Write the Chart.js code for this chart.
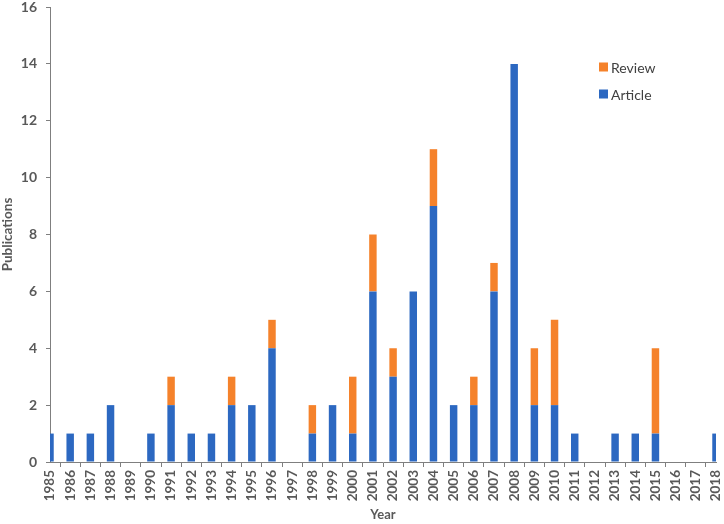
<!DOCTYPE html>
<html><head><meta charset="utf-8">
<script src="https://cdn.jsdelivr.net/npm/chart.js@4/dist/chart.umd.min.js"></script>
<style>html,body{margin:0;padding:0;background:#fff}#wrap{width:724px;height:524px}</style>
</head><body><div id="wrap"><canvas id="c"></canvas></div>
<script>
const years = ['1985','1986','1987','1988','1989','1990','1991','1992','1993','1994','1995','1996','1997','1998','1999','2000','2001','2002','2003','2004','2005','2006','2007','2008','2009','2010','2011','2012','2013','2014','2015','2016','2017','2018'];
const articles = [1,1,1,2,0,1,2,1,1,2,2,4,0,1,2,1,6,3,6,9,2,2,6,14,2,2,1,0,1,1,1,0,0,1];
const reviews  = [0,0,0,0,0,0,1,0,0,1,0,1,0,1,0,2,2,1,0,2,0,1,1,0,2,3,0,0,0,0,3,0,0,0];
const yTicks = [0,2,4,6,8,10,12,14,16];

const BLUE = '#2c68c1', ORANGE = '#f5822b', GRAY = '#595959';
const FONT = 'Lato, "Open Sans", sans-serif';

const legendPlugin = {
  id: 'insideLegend',
  afterDraw(chart) {
    const ctx = chart.ctx;
    const items = [chart.data.datasets[1], chart.data.datasets[0]];
    ctx.save();
    ctx.font = '14px ' + FONT;
    ctx.textBaseline = 'middle';
    items.forEach((ds, i) => {
      const y = 67 + i * 27;
      ctx.fillStyle = ds.backgroundColor;
      ctx.fillRect(599, y - 4.5, 9, 9);
      ctx.fillStyle = '#404040';
      ctx.fillText(ds.label, 611, y + 1);
    });
    ctx.restore();
  }
};

new Chart(document.getElementById('c'), {
  type: 'bar',
  data: {
    labels: years,
    datasets: [
      { label: 'Article', data: articles, backgroundColor: BLUE, barPercentage: 0.37, categoryPercentage: 1 },
      { label: 'Review', data: reviews, backgroundColor: ORANGE, barPercentage: 0.37, categoryPercentage: 1 }
    ]
  },
  options: {
    responsive: true, maintainAspectRatio: false, animation: false,
    layout: { padding: { top: 0, right: 0, left: 0, bottom: 0 } },
    plugins: { legend: { display: false }, tooltip: { enabled: false } },
    scales: {
      x: {
        stacked: true, offset: false,
        grid: { drawOnChartArea: false, drawTicks: true, tickLength: 5, color: '#7f7f7f' },
        border: { color: '#7f7f7f', width: 1 },
        ticks: { autoSkip: false, maxRotation: 90, minRotation: 90, color: GRAY, padding: 3, font: { family: FONT, size: 13.5, weight: 'bold', lineHeight: 1 } },
        title: { display: true, text: 'Year', color: GRAY, padding: { top: 2, bottom: 1 }, font: { family: FONT, size: 13, weight: 'bold' } },
        afterFit(s) { s.height = 62; s.paddingRight = 8; s.paddingLeft = 0; }
      },
      y: {
        stacked: true, min: 0, max: 16,
        afterBuildTicks(s) { s.ticks = yTicks.map(v => ({ value: v })); },
        grid: { drawOnChartArea: false, drawTicks: true, tickLength: 4, color: '#7f7f7f' },
        border: { color: '#7f7f7f', width: 1 },
        ticks: { color: GRAY, padding: 9, font: { family: FONT, size: 14, weight: 'bold', lineHeight: 1 } },
        title: { display: true, text: 'Publications', color: GRAY, padding: { top: 0, bottom: 2 }, font: { family: FONT, size: 13.5, weight: 'bold' } },
        afterFit(s) { s.width = 50; s.paddingTop = 7; s.paddingBottom = 0; }
      }
    }
  },
  plugins: [legendPlugin]
});
</script></body></html>
